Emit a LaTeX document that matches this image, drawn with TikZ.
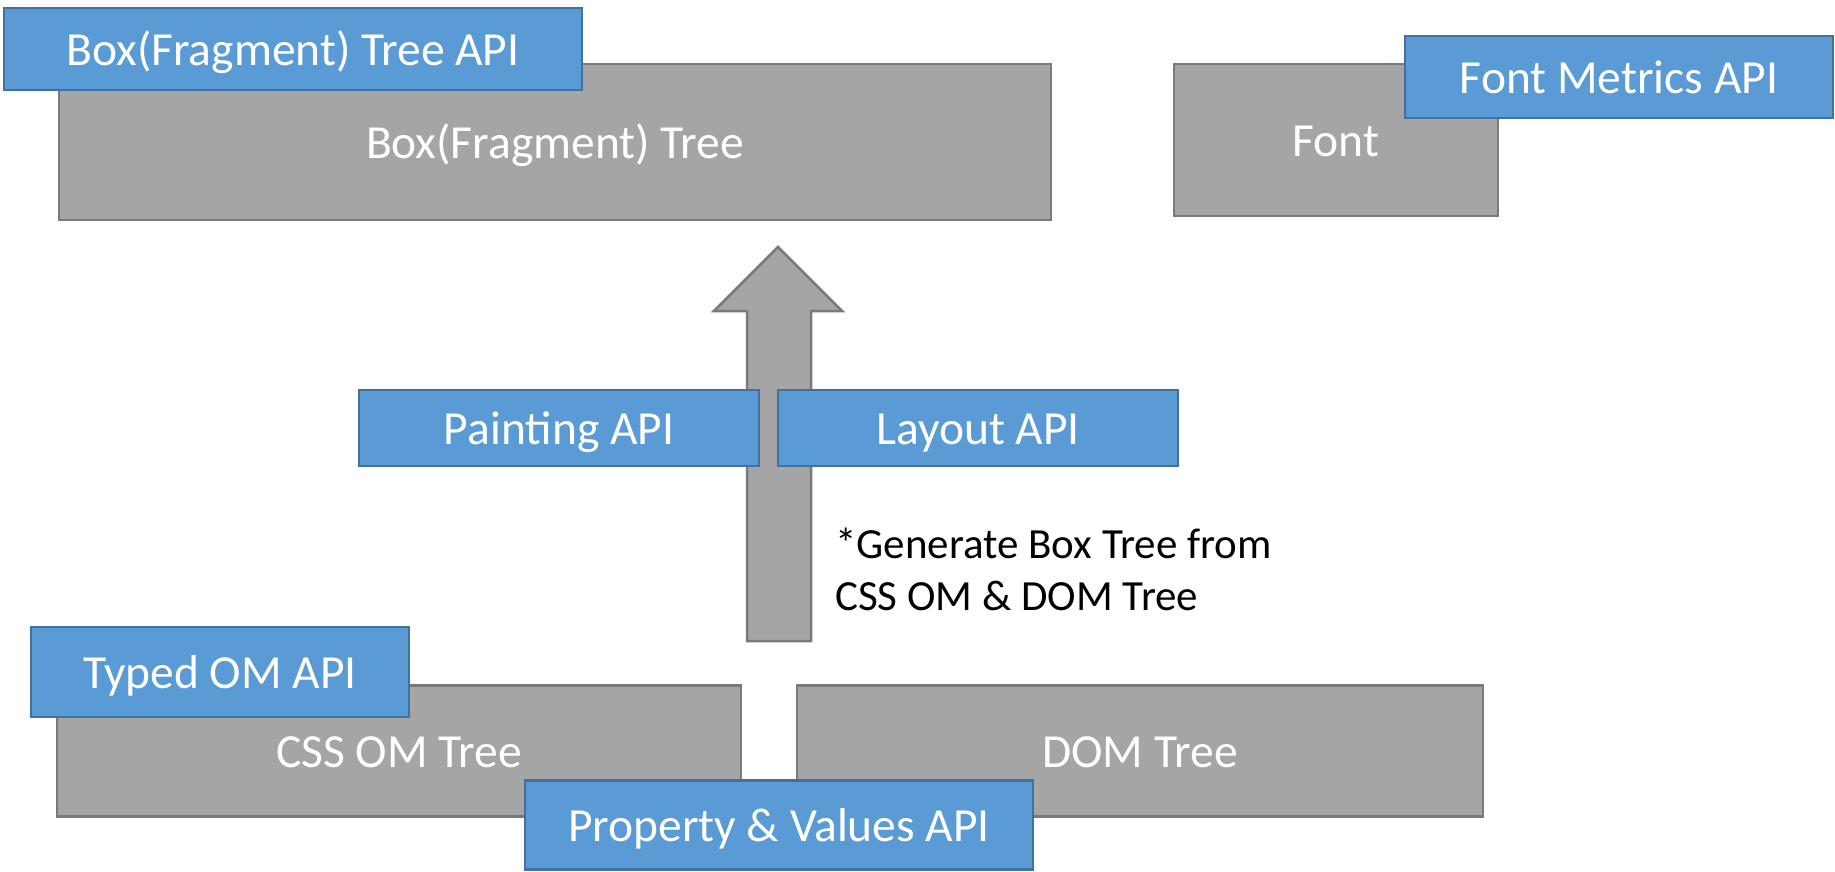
\documentclass[tikz,border=0pt]{standalone}
\usepackage{fontspec}
\setmainfont{Carlito}
\definecolor{apiblue}{HTML}{5B9BD5}
\definecolor{apiedge}{HTML}{41719C}
\definecolor{treegray}{HTML}{A5A5A5}
\definecolor{treeedge}{HTML}{7A7A7A}
\begin{document}
\begin{tikzpicture}[x=1pt,y=-1pt,
  labelfont/.style={font=\fontsize{47.5}{57}\selectfont, text height=33pt, text depth=0pt},
  treebox/.style={draw=treeedge, fill=treegray, line width=2.5pt, text=white,
    inner sep=0pt, labelfont},
  apibox/.style={draw=apiedge, fill=apiblue, line width=2.5pt, text=white,
    inner sep=0pt, labelfont},
  notetext/.style={anchor=base west, inner sep=0pt, text=black,
    font=\fontsize{43}{52}\selectfont}]
\useasboundingbox (0,0) rectangle (1835,872);

% top row: box tree and font
\node[treebox, minimum width=992pt, minimum height=156pt] (boxtree) at (555,142) {Box(Fragment) Tree};
\node[apibox, minimum width=578pt, minimum height=82pt] (boxapi) at (293,49) {Box(Fragment) Tree API};
\node[treebox, minimum width=324pt, minimum height=152pt] (font) at (1336,140) {Font};
\node[apibox, minimum width=428pt, minimum height=82pt] (fontapi) at (1619,77) {Font Metrics API};

% block arrow from the source trees up to the box tree
\draw[draw=treeedge, fill=treegray, line width=2.5pt, line join=miter]
  (747,641) -- (747,311) -- (714,311) -- (778,247) -- (842,311) -- (811,311) -- (811,641) -- cycle;

% middle APIs
\node[apibox, minimum width=400pt, minimum height=76pt] (paint) at (559,428) {Painting API};
\node[apibox, minimum width=400pt, minimum height=76pt] (layout) at (978,428) {Layout API};

% note beside the arrow
\node[notetext] (note1) at (835,558) {*Generate Box Tree from};
\node[notetext] (note2) at (835,610) {CSS OM \& DOM Tree};

% bottom row: CSS OM and DOM trees
\node[treebox, minimum width=684pt, minimum height=131pt] (cssom) at (399,751) {CSS OM Tree};
\node[treebox, minimum width=686pt, minimum height=131pt] (dom) at (1140,751) {DOM Tree};
\node[apibox, minimum width=378pt, minimum height=90pt] (typed) at (220,672) {Typed OM API};
\node[apibox, minimum width=508pt, minimum height=89pt] (propval) at (779,825) {Property \& Values API};
\end{tikzpicture}
\end{document}
